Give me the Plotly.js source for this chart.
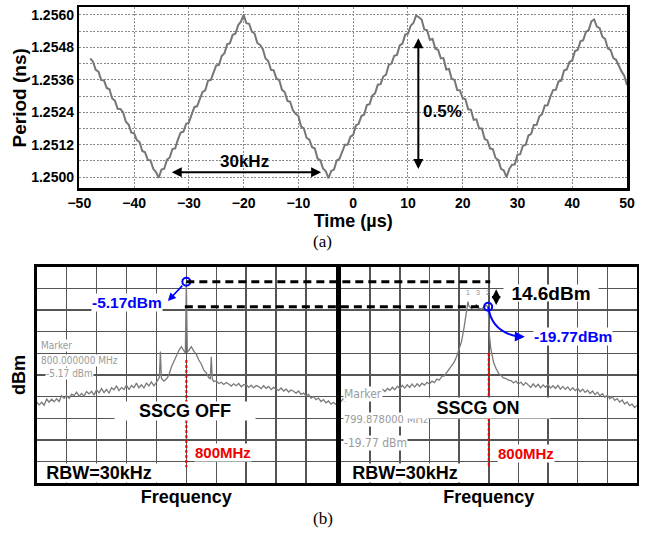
<!DOCTYPE html>
<html><head><meta charset="utf-8">
<script src="https://cdn.plot.ly/plotly-3.0.1.min.js"></script>
<style>html,body{margin:0;padding:0;background:#fff;}#chart{width:648px;height:544px;}</style>
</head><body><div id="chart"></div>
<script>
// ---------- (a) period vs time ----------
const timeUs = [-48,-47.5,-47,-46.5,-46,-45.5,-45,-44.5,-44,-43.5,-43,-42.5,-42,-41.5,-41,-40.5,-40,-39.5,-39,-38.5,-38,-37.5,-37,-36.5,-36,-35.5,
-35,-34.5,-34,-33.5,-33,-32.5,-32,-31.5,-31,-30.5,-30,-29.5,-29,-28.5,-28,-27.5,-27,-26.5,-26,-25.5,-25,-24.5,-24,-23.5,-23,-22.5,-22,-21.5,-21,-20.5,-20,
-19.5,-19,-18.5,-18,-17.5,-17,-16.5,-16,-15.5,-15,-14.5,-14,-13.5,-13,-12.5,-12,-11.5,-11,-10.5,-10,-9.5,-9,-8.5,-8,-7.5,-7,-6.5,-6,-5.5,-5,-4.5,
-4,-3.5,-3,-2.5,-2,-1.5,-1,-0.5,0,0.5,1,1.5,2,2.5,3,3.5,4,4.5,5,5.5,6,6.5,7,7.5,8,8.5,9,9.5,10,10.5,11,11.5,12,
12.5,13,13.5,14,14.5,15,15.5,16,16.5,17,17.5,18,18.5,19,19.5,20,20.5,21,21.5,22,22.5,23,23.5,24,24.5,25,25.5,26,26.5,27,27.5,28,
28.5,29,29.5,30,30.5,31,31.5,32,32.5,33,33.5,34,34.5,35,35.5,36,36.5,37,37.5,38,38.5,39,39.5,40,40.5,41,41.5,42,42.5,43,43.5,44,
44.5,45,45.5,46,46.5,47,47.5,48,48.5,49,49.5,50];
const periodNs = [1.25439,1.25427,1.25397,1.25390,1.25359,1.25358,1.25330,1.25325,1.25291,1.25283,1.25253,1.25252,1.25239,1.25205,1.25195,1.25165,1.25163,1.25137,1.25130,1.25097,1.25092,1.25064,1.25062,1.25031,1.25019,1.24998,
1.25028,1.25031,1.25064,1.25073,1.25104,1.25106,1.25139,1.25165,1.25168,1.25197,1.25202,1.25234,1.25259,1.25262,1.25291,1.25315,1.25321,1.25357,1.25359,1.25386,1.25413,1.25415,1.25448,1.25458,1.25491,1.25495,1.25526,1.25530,1.25562,1.25575,1.25600,
1.25569,1.25567,1.25538,1.25531,1.25496,1.25489,1.25474,1.25439,1.25429,1.25397,1.25395,1.25364,1.25359,1.25323,1.25315,1.25282,1.25279,1.25247,1.25234,1.25226,1.25187,1.25180,1.25145,1.25139,1.25111,1.25106,1.25069,1.25063,1.25032,1.25022,1.24996,
1.25023,1.25028,1.25062,1.25068,1.25096,1.25120,1.25120,1.25150,1.25156,1.25191,1.25197,1.25226,1.25231,1.25267,1.25270,1.25302,1.25310,1.25342,1.25344,1.25372,1.25379,1.25415,1.25420,1.25449,1.25452,1.25487,1.25494,1.25527,1.25530,1.25560,1.25570,1.25598,1.25591,
1.25583,1.25546,1.25543,1.25508,1.25511,1.25475,1.25471,1.25440,1.25440,1.25398,1.25400,1.25363,1.25360,1.25322,1.25321,1.25292,1.25288,1.25251,1.25249,1.25212,1.25214,1.25180,1.25180,1.25142,1.25136,1.25106,1.25104,1.25071,1.25064,1.25031,1.25025,1.25000,
1.25030,1.25046,1.25047,1.25083,1.25085,1.25117,1.25119,1.25154,1.25160,1.25193,1.25194,1.25225,1.25233,1.25265,1.25266,1.25297,1.25322,1.25323,1.25354,1.25357,1.25394,1.25398,1.25426,1.25432,1.25466,1.25470,1.25502,1.25506,1.25537,1.25544,1.25576,1.25583,
1.25557,1.25551,1.25519,1.25511,1.25476,1.25470,1.25440,1.25434,1.25409,1.25391,1.25375,1.25340];
const timeTicks = [-50,-40,-30,-20,-10,0,10,20,30,40,50];
const periodGrid = [1.2500,1.2506,1.2512,1.2518,1.2524,1.2530,1.2536,1.2542,1.2548,1.2554,1.2560];
const periodLabels = [1.2500,1.2512,1.2524,1.2536,1.2548,1.2560];

// ---------- (b) spectra ----------
const freqOff = [770,770.5,771,771.5,772,772.5,773,773.5,774,774.5,775,775.5,776,776.5,777,777.5,778,778.5,779,779.5,780,780.5,781,781.5,782,782.5,783,783.5,784,784.5,785,785.5,786,786.5,787,787.5,788,788.5,789,789.5,790,790.5,791,791.5,792,792.5,793,793.5,794,
794.6,794.8,795,795.5,796,796.5,797,797.5,798,798.5,799,799.5,799.8,800,800.2,800.5,801,801.5,802,802.5,803,803.5,804,804.5,804.8,805,805.2,805.5,
806,806.5,807,807.5,808,808.5,809,809.5,810,810.5,811,811.5,812,812.5,813,813.5,814,814.5,815,815.5,816,816.5,817,817.5,818,818.5,819,819.5,820,820.5,821,821.5,822,822.5,823,823.5,824,824.5,825,825.5,826,826.5,827,827.5,828,828.5,829,829.5,830];
const dbmOff = [-75.4,-77.1,-75.6,-77.3,-73.7,-75.5,-73.8,-75.3,-73.5,-75.1,-71.7,-73.3,-71.6,-73.3,-70.8,-71.7,-69.7,-72.0,-70.4,-72.0,-69.3,-70.7,-69.2,-71.4,-68.3,-70.1,-67.6,-69.9,-68.1,-70.3,-67.1,-68.3,-66.1,-68.8,-67.0,-68.1,-65.5,-68.2,-65.8,-67.1,-64.4,-67.1,-65.4,-67.2,-64.4,-66.0,-63.7,-66.0,-63.9,
-61.0,-46.0,-61.5,-63.2,-62.0,-59.8,-55.0,-51.8,-48.0,-45.3,-43.1,-45.8,-46.8,-5.17,-46.5,-45.2,-43.1,-45.7,-47.6,-50.9,-53.2,-56.8,-58.4,-61.3,-61.8,-49.0,-62.0,-63.4,
-63.1,-64.6,-63.9,-65.2,-64.0,-64.9,-66.1,-64.8,-65.9,-64.6,-66.5,-65.3,-65.1,-66.9,-65.6,-67.2,-65.8,-66.4,-67.6,-65.9,-67.4,-66.3,-68.2,-66.9,-67.8,-68.7,-67.2,-69.0,-67.9,-69.6,-68.4,-69.1,-70.3,-69.0,-71.0,-70.2,-71.8,-71.0,-73.1,-72.2,-74.0,-73.1,-75.2,-74.0,-75.9,-74.8,-76.7,-75.6,-77.0];
const freqOn = [770,770.5,771,771.5,772,772.5,773,773.5,774,774.5,775,775.5,776,776.5,777,777.5,778,778.5,779,779.5,780,780.5,781,781.5,782,782.5,783,783.5,784,784.5,785,785.5,786,786.5,787,787.5,788,788.5,789,789.5,790,790.5,791,791.5,792,792.5,793,793.5,794,794.5,795,795.3,795.6,795.8,796,796.5,797,797.5,798,798.5,799,799.5,799.878,
800.1,800.4,800.7,801,801.5,802,802.5,803,803.5,804,804.5,805,805.5,806,806.5,807,807.5,808,808.5,809,809.5,810,810.5,811,811.5,812,812.5,813,813.5,814,814.5,815,815.5,816,816.5,817,817.5,818,818.5,819,819.5,820,820.5,821,821.5,822,822.5,823,823.5,824,824.5,825,825.5,826,826.5,827,827.5,828,828.5,829,829.5,830];
const dbmOn = [-75.5,-73.6,-74.8,-72.9,-74.1,-72.2,-73.0,-71.4,-72.5,-70.6,-71.8,-69.9,-71.2,-69.0,-70.4,-68.6,-69.8,-67.9,-69.3,-67.5,-68.6,-66.8,-68.3,-66.2,-67.6,-65.7,-67.3,-65.4,-66.9,-65.0,-66.7,-64.8,-66.2,-64.4,-65.6,-63.9,-65.0,-63.2,-64.1,-62.0,-62.6,-60.5,-60.2,-58.0,-56.5,-54.0,-52.2,-48.8,-45.0,-40.0,-32.0,-26.0,-20.5,-16.8,-19.5,-20.8,-19.9,-18.6,-20.6,-21.2,-20.0,-18.9,-19.77,
-35.3,-44.0,-49.0,-52.5,-56.0,-58.7,-60.0,-61.4,-61.7,-62.6,-62.9,-64.3,-63.2,-65.0,-63.8,-65.6,-64.1,-65.5,-66.9,-64.8,-66.6,-65.1,-67.2,-65.4,-66.8,-65.2,-67.3,-65.9,-67.5,-65.7,-67.9,-66.3,-68.0,-66.6,-68.6,-67.1,-68.8,-67.4,-69.4,-67.9,-69.8,-68.5,-70.4,-69.0,-71.1,-69.7,-71.8,-70.6,-72.7,-71.4,-73.5,-72.3,-74.4,-73.4,-75.5,-74.3,-76.6,-75.4,-77.5,-76.6,-78.6,-77.5];
const markerOff = {freq: 800, dbm: -5.17, mhz: '800.000000 MHz', lvl: '-5.17 dBm'};
const markerOn = {freq: 799.878, dbm: -19.77, mhz: '799.878000 MHz', lvl: '-19.77 dBm'};
const carrierMHz = 800;
const deltaDb = 14.6;

// ---------- layout geometry ----------
const FONT = 'Liberation Sans, Arial, sans-serif';
const dTop = {x: [0.1224, 0.9676], y: [0.6539, 0.9866]};
const dBotY = [0.1116, 0.5097];
const dX2 = [0.0566, 0.5185], dX3 = [0.5255, 0.9830];
const fRange = [770, 830], pRange = [-122.9, 3.6];
const px = (dom, rng, v) => dom[0] + (v - rng[0]) / (rng[1] - rng[0]) * (dom[1] - dom[0]);

const traces = [
  {x: timeUs, y: periodNs, xaxis: 'x', yaxis: 'y', mode: 'lines', line: {color: '#767676', width: 2}},
  {x: freqOff, y: dbmOff, xaxis: 'x2', yaxis: 'y2', mode: 'lines', line: {color: '#7a7a7a', width: 1.3}},
  {x: freqOn, y: dbmOn, xaxis: 'x3', yaxis: 'y3', mode: 'lines', line: {color: '#7a7a7a', width: 1.3}},
  {x: [markerOff.freq], y: [markerOff.dbm], xaxis: 'x2', yaxis: 'y2', mode: 'markers',
   marker: {symbol: 'circle-open', size: 8, color: '#0000ff', line: {width: 2, color: '#0000ff'}}},
  {x: [markerOn.freq], y: [markerOn.dbm], xaxis: 'x3', yaxis: 'y3', mode: 'markers',
   marker: {symbol: 'circle-open', size: 8, color: '#0000ff', line: {width: 2, color: '#0000ff'}}}
];

const specAxisX = (dom, anchor) => ({domain: dom, anchor: anchor, range: fRange, tickmode: 'linear', tick0: fRange[0], dtick: 6,
  showticklabels: false, ticks: '', showgrid: true, gridcolor: '#555555', gridwidth: 1.5, zeroline: false,
  showline: true, mirror: true, linecolor: '#000', linewidth: 2.5,
  title: {text: 'Frequency', font: {family: FONT, size: 18, weight: 'bold', color: '#000'}, standoff: 6}});
const specAxisY = (anchor, title) => ({domain: dBotY, anchor: anchor, range: pRange, tickmode: 'linear', tick0: pRange[0], dtick: (pRange[1]-pRange[0])/10,
  showticklabels: false, ticks: '', showgrid: true, gridcolor: '#555555', gridwidth: 1.5, zeroline: false,
  showline: true, mirror: true, linecolor: '#000', linewidth: 2.5,
  title: {text: title, font: {family: FONT, size: 18, weight: 'bold', color: '#000'}, standoff: 4}});

const layout = {
  width: 648, height: 544, margin: {l: 0, r: 0, t: 0, b: 0}, paper_bgcolor: '#fff', plot_bgcolor: '#fff',
  showlegend: false, font: {family: FONT, color: '#000'},
  xaxis: {domain: dTop.x, anchor: 'y', range: [-50, 50], tickvals: timeTicks, ticks: '', zeroline: false,
    showgrid: true, gridcolor: '#8a8a8a', griddash: '2px,1.5px', gridwidth: 1,
    showline: true, mirror: true, linecolor: '#000', linewidth: 2.5,
    tickfont: {family: FONT, size: 14, weight: 'bold'},
    title: {text: 'Time (µs)', font: {family: FONT, size: 18, weight: 'bold'}, standoff: 0}},
  yaxis: {domain: dTop.y, anchor: 'x', range: [1.24959, 1.25628], tickvals: periodGrid,
    ticktext: periodGrid.map(v => periodLabels.some(l => Math.abs(l - v) < 1e-7) ? v.toFixed(4) : ''),
    ticks: '', zeroline: false, showgrid: true, gridcolor: '#8a8a8a', griddash: '2px,1.5px', gridwidth: 1,
    showline: true, mirror: true, linecolor: '#000', linewidth: 2.5,
    tickfont: {family: FONT, size: 14, weight: 'bold'},
    title: {text: 'Period (ns)', font: {family: FONT, size: 19, weight: 'bold'}, standoff: 0}},
  xaxis2: specAxisX(dX2, 'y2'), yaxis2: specAxisY('x2', 'dBm'),
  xaxis3: specAxisX(dX3, 'y3'), yaxis3: specAxisY('x3', ''),
  shapes: [
    {type: 'line', xref: 'paper', yref: 'paper', x0: px(dX2, fRange, markerOff.freq), x1: px(dX3, fRange, carrierMHz + 0.3),
     y0: px(dBotY, pRange, markerOff.dbm), y1: px(dBotY, pRange, markerOff.dbm), line: {color: '#000', width: 3, dash: '8px,5px'}},
    {type: 'line', xref: 'paper', yref: 'paper', x0: px(dX2, fRange, carrierMHz - 0.3), x1: px(dX3, fRange, markerOn.freq - 0.8),
     y0: px(dBotY, pRange, markerOn.dbm), y1: px(dBotY, pRange, markerOn.dbm), line: {color: '#000', width: 3, dash: '8px,5px'}},
    {type: 'line', xref: 'x2', yref: 'y2', x0: carrierMHz, x1: carrierMHz, y0: -50.9, y1: -113.5, line: {color: '#ee0000', width: 2, dash: '3px,2px'}},
    {type: 'line', xref: 'x3', yref: 'y3', x0: carrierMHz, x1: carrierMHz, y0: -46.8, y1: -113.5, line: {color: '#ee0000', width: 2, dash: '3px,2px'}},
    {type: 'path', xref: 'x3', yref: 'y3', path: 'M ' + markerOn.freq + ',' + markerOn.dbm + ' Q 800.6,-35.1 806.2,-37.2', line: {color: '#0000ff', width: 2}}
  ],
  annotations: []
};

const A = layout.annotations;
const bold = (size, color) => ({family: FONT, size: size, weight: 'bold', color: color || '#000'});
const grayFont = (s) => ({family: 'Liberation Sans Narrow, DejaVu Sans Condensed, Liberation Sans, sans-serif', size: s, color: '#9a9a9a'});
// (a) annotations
A.push({xref: 'x', yref: 'y', x: -5.85, y: 1.25018, ax: -33.4, ay: 1.25018, axref: 'x', ayref: 'y', text: ' ', font: {size: 1},
  showarrow: true, arrowside: 'end+start', arrowhead: 2, startarrowhead: 2, arrowsize: 1, startarrowsize: 1, arrowwidth: 2, arrowcolor: '#000', standoff: 0, startstandoff: 0});
A.push({xref: 'x', yref: 'y', x: 11.9, y: 1.25030, ax: 11.9, ay: 1.25521, axref: 'x', ayref: 'y', text: ' ', font: {size: 1},
  showarrow: true, arrowside: 'end+start', arrowhead: 2, startarrowhead: 2, arrowsize: 1, startarrowsize: 1, arrowwidth: 2, arrowcolor: '#000', standoff: 0, startstandoff: 0});
A.push({xref: 'x', yref: 'y', x: -19.8, y: 1.25058, text: '30kHz', showarrow: false, font: bold(17)});
A.push({xref: 'x', yref: 'y', x: 16.4, y: 1.25242, text: '0.5%', showarrow: false, font: bold(17)});
A.push({xref: 'paper', yref: 'paper', x: 322/648, y: 1 - 241/544, text: '(a)', showarrow: false, font: {family: 'Liberation Serif, Times New Roman, serif', size: 17}});
A.push({xref: 'paper', yref: 'paper', x: 323/648, y: 1 - 530/544, text: '(b)', showarrow: false, font: {family: 'Liberation Serif, Times New Roman, serif', size: 17}});
// (b) left
A.push({xref: 'x2', yref: 'y2', x: 770.66, y: -42.7, xanchor: 'left', text: 'Marker', showarrow: false, bgcolor: '#fff', borderpad: 0, font: grayFont(10)});
A.push({xref: 'x2', yref: 'y2', x: 770.66, y: -50.9, xanchor: 'left', text: markerOff.mhz, showarrow: false, bgcolor: '#fff', borderpad: 0, font: grayFont(10)});
A.push({xref: 'x2', yref: 'y2', x: 771.66, y: -58.5, xanchor: 'left', text: markerOff.lvl, showarrow: false, bgcolor: '#fff', borderpad: 0, font: grayFont(10)});
A.push({xref: 'x2', yref: 'y2', x: 799.66, y: -80.8, text: 'SSCG OFF', showarrow: false, bgcolor: '#fff', width: 140, height: 18, borderpad: 0, font: bold(18)});
A.push({xref: 'x2', yref: 'y2', x: 782.4, y: -116.9, text: 'RBW=30kHz', showarrow: false, bgcolor: '#fff', width: 118, height: 18, borderpad: 0, font: bold(18)});
A.push({xref: 'x2', yref: 'y2', x: 801.5, y: -104.8, xanchor: 'left', text: '800MHz', showarrow: false, bgcolor: '#fff', borderpad: 0, font: bold(15, '#ee0000')});
A.push({xref: 'x2', yref: 'y2', x: 788.2, y: -17.4, text: '-5.17dBm', showarrow: false, bgcolor: '#fff', borderpad: 0, font: bold(15.5, '#0000ff')});
A.push({xref: 'x2', yref: 'y2', x: 796.3, y: -16.4, ax: 799.5, ay: -6.5, axref: 'x2', ayref: 'y2', text: ' ', font: {size: 1},
  showarrow: true, arrowhead: 2, arrowsize: 1, arrowwidth: 1.6, arrowcolor: '#0000ff', standoff: 0});
// (b) right
A.push({xref: 'x3', yref: 'y3', x: 770.5, y: -70.8, xanchor: 'left', text: 'Marker', showarrow: false, bgcolor: '#fff', borderpad: 0, font: grayFont(12)});
A.push({xref: 'x3', yref: 'y3', x: 770.5, y: -85.9, xanchor: 'left', text: markerOn.mhz, showarrow: false, bgcolor: '#fff', borderpad: 0, font: grayFont(11)});
A.push({xref: 'x3', yref: 'y3', x: 770.5, y: -99.4, xanchor: 'left', text: markerOn.lvl, showarrow: false, bgcolor: '#fff', borderpad: 0, font: grayFont(12)});
A.push({xref: 'x3', yref: 'y3', x: 797.8, y: -78.9, text: 'SSCG ON', showarrow: false, bgcolor: '#fff', width: 144, height: 20, borderpad: 0, font: bold(18)});
A.push({xref: 'x3', yref: 'y3', x: 782.95, y: -116.9, text: 'RBW=30kHz', showarrow: false, bgcolor: '#fff', width: 124, height: 18, borderpad: 0, font: bold(18)});
A.push({xref: 'x3', yref: 'y3', x: 801.6, y: -105.4, xanchor: 'left', text: '800MHz', showarrow: false, bgcolor: '#fff', borderpad: 0, font: bold(15, '#ee0000')});
A.push({xref: 'x3', yref: 'y3', x: 816.96, y: -36.9, text: '-19.77dBm', showarrow: false, bgcolor: '#fff', borderpad: 0, font: bold(15.5, '#0000ff')});
A.push({xref: 'x3', yref: 'y3', x: 807.3, y: -37.3, ax: 805.6, ay: -37.2, axref: 'x3', ayref: 'y3', text: ' ', font: {size: 1},
  showarrow: true, arrowhead: 2, arrowsize: 1, arrowwidth: 2, arrowcolor: '#0000ff', standoff: 0});
A.push({xref: 'x3', yref: 'y3', x: 812.6, y: -11.9, text: deltaDb.toFixed(1) + 'dBm', showarrow: false, bgcolor: '#fff', width: 94, height: 16, borderpad: 0, font: bold(19)});
A.push({xref: 'x3', yref: 'y3', x: 801.5, y: -18.7, ax: 801.5, ay: -8.4, axref: 'x3', ayref: 'y3', text: ' ', font: {size: 1},
  showarrow: true, arrowside: 'end+start', arrowhead: 2, startarrowhead: 2, arrowsize: 0.9, startarrowsize: 0.9, arrowwidth: 2, arrowcolor: '#000', standoff: 0, startstandoff: 0});
[['1', 795.8], ['3', 797.8], ['2', 799.8]].forEach(([t, f]) =>
  A.push({xref: 'x3', yref: 'y3', x: f, y: -11.6, text: t, showarrow: false, font: {family: FONT, size: 7, color: '#909090'}}));

Plotly.newPlot('chart', traces, layout, {staticPlot: true, displayModeBar: false});
</script></body></html>
